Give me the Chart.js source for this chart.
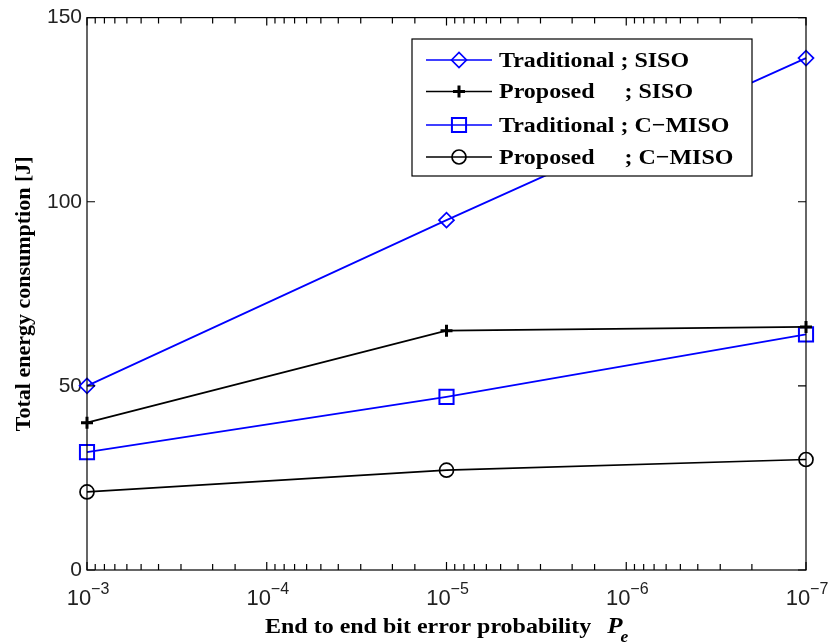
<!DOCTYPE html>
<html>
<head>
<meta charset="utf-8">
<script src="https://cdn.jsdelivr.net/npm/chart.js@4.4.1/dist/chart.umd.min.js"></script>
<style>
  html, body { margin: 0; padding: 0; background: #fff; }
  #wrap { width: 828px; height: 644px; position: relative; }
</style>
</head>
<body>
<div id="wrap"><canvas id="c" width="828" height="644"></canvas></div>
<script>
// Bit error probability targets (x) and total energy consumption in J (y)
const errorProb = [1e-3, 1e-5, 1e-7];
const tradSISO = [50, 95, 139];
const propSISO = [40, 65, 66];
const tradCMISO = [32, 47, 64];
const propCMISO = [21.2, 27.1, 30];

const seriesNames = [
  'Traditional ; SISO',
  'Proposed     ; SISO',
  'Traditional ; C\u2212MISO',
  'Proposed     ; C\u2212MISO'
];

const xTickValues = [1e-3, 1e-4, 1e-5, 1e-6, 1e-7];
const xTickBase = ['10', '10', '10', '10', '10'];
const xTickExp = ['\u22123', '\u22124', '\u22125', '\u22126', '\u22127'];
const yTickValues = [0, 50, 100, 150];

const xTitle = 'End to end bit error probability';
const xTitleSymbol = 'P';
const xTitleSub = 'e';
const yTitle = 'Total energy consumption [J]';

const BLUE = '#0000ff';
const BLACK = '#000000';
const SERIF = '"Liberation Serif", "Times New Roman", serif';
const SANS = '"Liberation Sans", Arial, sans-serif';
const TEXT_STRETCH = 1.09;

function pts(vals) {
  return errorProb.map((x, i) => ({ x: x, y: vals[i] }));
}

// text drawn slightly wider than the font's natural width
function wideText(ctx, text, x, y) {
  ctx.save();
  ctx.translate(x, y);
  ctx.scale(TEXT_STRETCH, 1);
  ctx.fillText(text, 0, 0);
  ctx.restore();
}

// Axes box with inward ticks, superscript tick labels, x title and legend
const matlabFrame = {
  id: 'matlabFrame',
  afterDraw(chart) {
    const { ctx, chartArea: a, scales } = chart;
    const xs = scales.x, ys = scales.y;
    ctx.save();
    ctx.strokeStyle = '#000';
    ctx.lineWidth = 1.2;
    ctx.strokeRect(a.left, a.top, a.right - a.left, a.bottom - a.top);

    // x ticks (major and minor) on bottom and top edges
    xs.ticks.forEach(t => {
      const v = t.value;
      const px = xs.getPixelForValue(v);
      if (px < a.left - 0.5 || px > a.right + 0.5) return;
      const e = Math.log10(v);
      const major = Math.abs(e - Math.round(e)) < 1e-6;
      const len = major ? 8 : 6;
      ctx.beginPath();
      ctx.moveTo(px, a.bottom); ctx.lineTo(px, a.bottom - len);
      ctx.moveTo(px, a.top); ctx.lineTo(px, a.top + len);
      ctx.stroke();
    });
    // y ticks on left and right edges
    yTickValues.forEach(v => {
      const py = ys.getPixelForValue(v);
      ctx.beginPath();
      ctx.moveTo(a.left, py); ctx.lineTo(a.left + 8, py);
      ctx.moveTo(a.right, py); ctx.lineTo(a.right - 8, py);
      ctx.stroke();
    });

    // x tick labels: 10 with superscript exponent
    ctx.fillStyle = '#222';
    ctx.textBaseline = 'alphabetic';
    ctx.textAlign = 'left';
    xTickValues.forEach((v, i) => {
      const px = xs.getPixelForValue(v);
      ctx.font = '22px ' + SANS;
      const wb = ctx.measureText(xTickBase[i]).width;
      ctx.font = '16px ' + SANS;
      const we = ctx.measureText(xTickExp[i]).width;
      const x0 = px - (wb + we) / 2 + 1;
      ctx.font = '22px ' + SANS;
      ctx.fillText(xTickBase[i], x0, a.bottom + 35);
      ctx.font = '16px ' + SANS;
      ctx.fillText(xTickExp[i], x0 + wb, a.bottom + 24);
    });

    // x axis title with italic P and subscript e
    ctx.fillStyle = '#000';
    ctx.font = 'bold 22px ' + SERIF;
    const wt = ctx.measureText(xTitle + '  ').width * TEXT_STRETCH;
    ctx.font = 'italic bold 23px ' + SERIF;
    const wp = ctx.measureText(xTitleSymbol).width * TEXT_STRETCH;
    const tx = 265;
    const ty = 633;
    ctx.font = 'bold 22px ' + SERIF;
    wideText(ctx, xTitle, tx, ty);
    ctx.font = 'italic bold 23px ' + SERIF;
    wideText(ctx, xTitleSymbol, tx + wt + 4, ty);
    ctx.font = 'italic bold 16px ' + SERIF;
    wideText(ctx, xTitleSub, tx + wt + wp + 2, ty + 9);

    // legend box
    const lx = 412, ly = 39, lw = 340, lh = 137;
    ctx.fillStyle = '#fff';
    ctx.fillRect(lx, ly, lw, lh);
    ctx.strokeStyle = '#000';
    ctx.lineWidth = 1.2;
    ctx.strokeRect(lx, ly, lw, lh);
    const rows = [60, 91.5, 125, 157];
    chart.data.datasets.forEach((ds, i) => {
      const yy = rows[i];
      ctx.strokeStyle = ds.borderColor;
      ctx.lineWidth = ds.borderWidth;
      ctx.beginPath();
      ctx.moveTo(426, yy); ctx.lineTo(492, yy);
      ctx.stroke();
      ctx.fillStyle = 'rgba(0,0,0,0)';
      ctx.lineWidth = ds.pointBorderWidth;
      Chart.helpers.drawPoint(ctx, {
        pointStyle: ds.pointStyle,
        radius: ds.pointRadius,
        borderWidth: ds.pointBorderWidth,
        rotation: 0
      }, 459, yy);
      ctx.fillStyle = '#000';
      ctx.font = 'bold 22px ' + SERIF;
      ctx.textAlign = 'left';
      ctx.textBaseline = 'middle';
      wideText(ctx, ds.label, 499, yy + 1);
    });
    ctx.restore();
  }
};

function series(label, data, color, style, radius, pbw) {
  return {
    label: label,
    data: data,
    borderColor: color,
    backgroundColor: 'rgba(0,0,0,0)',
    borderWidth: 1.7,
    pointStyle: style,
    pointRadius: radius,
    pointHoverRadius: radius,
    pointBorderColor: color,
    pointBackgroundColor: 'rgba(0,0,0,0)',
    pointBorderWidth: pbw,
    tension: 0,
    clip: false
  };
}

new Chart(document.getElementById('c'), {
  type: 'line',
  data: {
    datasets: [
      series(seriesNames[0], pts(tradSISO), BLUE, 'rectRot', 7.5, 1.7),
      series(seriesNames[1], pts(propSISO), BLACK, 'cross', 6, 3),
      series(seriesNames[2], pts(tradCMISO), BLUE, 'rect', 10, 2),
      series(seriesNames[3], pts(propCMISO), BLACK, 'circle', 7, 1.7)
    ]
  },
  options: {
    responsive: false,
    animation: false,
    events: [],
    layout: { padding: { left: 0, right: 22, top: 17, bottom: 0 } },
    plugins: { legend: { display: false }, tooltip: { enabled: false } },
    scales: {
      x: {
        type: 'logarithmic',
        reverse: true,
        min: 1e-7,
        max: 1e-3,
        grid: { display: false, drawTicks: false },
        border: { display: false },
        ticks: { display: false },
        afterFit(s) { s.height = 74; }
      },
      y: {
        type: 'linear',
        min: 0,
        max: 150,
        grid: { display: false, drawTicks: false },
        border: { display: false },
        ticks: {
          stepSize: 50,
          padding: 5,
          color: '#222',
          font: { family: SANS, size: 21 }
        },
        title: {
          display: true,
          text: yTitle,
          color: '#000',
          padding: { top: 11, bottom: 0 },
          font: { family: SERIF, size: 22, weight: 'bold' }
        },
        afterFit(s) { s.width = 87; }
      }
    }
  },
  plugins: [matlabFrame]
});
</script>
</body>
</html>
